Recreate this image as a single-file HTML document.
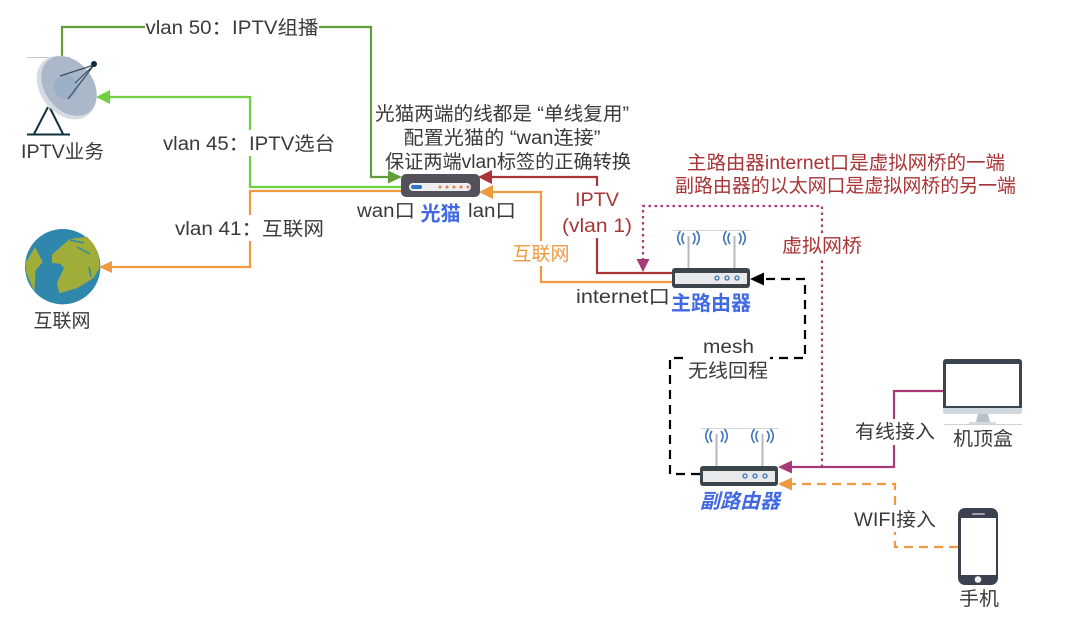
<!DOCTYPE html>
<html><head><meta charset="utf-8"><style>
html,body{margin:0;padding:0;background:#fff}
svg{display:block}
text{font-family:"Liberation Sans","Noto Sans CJK SC",sans-serif;font-size:19px;fill:#3a3a3a;text-anchor:middle}
.l{fill:none;stroke-width:2.2}
.b{font-weight:bold;fill:#4169e1;font-size:20px}
.r{fill:#a83436}
.o{fill:#ef9a40}
</style></head><body>
<svg width="1066" height="626" viewBox="0 0 1066 626" xmlns="http://www.w3.org/2000/svg">
<rect width="1066" height="626" fill="#fff"/>
<!-- connectors -->
<path class="l" stroke="#5f9e38" d="M62 57V27H371V177H390"/>
<path fill="#5f9e38" d="M402 177l-14-6.500v13z"/>
<path class="l" stroke="#72cf40" d="M402 187H250V97H108"/>
<path fill="#72cf40" d="M96 97l14-7v14z"/>
<path class="l" stroke="#ef9a40" d="M402 191H250V267H110"/>
<path fill="#ef9a40" d="M99 267l13-6v12z"/>
<path class="l" stroke="#a83436" d="M672 273H597V177H490"/>
<path fill="#a83436" d="M478 177l14-7v14z"/>
<path class="l" stroke="#ef9a40" d="M672 282H541V192H492"/>
<path fill="#ef9a40" d="M479 192l14-7v14z"/>
<path class="l" stroke="#a83a78" stroke-width="2.500" stroke-dasharray="2.500 3.500" d="M822 467V206H643V262"/>
<path fill="#a83a78" d="M643 272l-6.500-13h13z"/>
<path class="l" stroke="#a83a78" d="M944 391H894V467H790"/>
<path fill="#a83a78" d="M778 467l14-6.500v13z"/>
<path class="l" stroke="#ef9a40" stroke-dasharray="9 6" d="M958 547H895V484H790"/>
<path fill="#ef9a40" d="M778 484l14-6.500v13z"/>
<path class="l" stroke="#000" stroke-dasharray="9 6" d="M700 474H670V358H805V279H762"/>
<path fill="#000" d="M750 279l14-6.500v13z"/>
<!-- label backgrounds -->
<g fill="#fff">
<rect x="145" y="15" width="174" height="24"/>
<rect x="162" y="130" width="175" height="26"/>
<rect x="174" y="215" width="152" height="26"/>
<rect x="562" y="186" width="71" height="52"/>
<rect x="510" y="241" width="62" height="25"/>
<rect x="780" y="233" width="84" height="26"/>
<rect x="686" y="336" width="84" height="48"/>
<rect x="853" y="419" width="84" height="26"/>
<rect x="853" y="506" width="84" height="26"/>
</g>
<!-- satellite dish -->
<g>
<path d="M27 57.500H70" stroke="#c8c8c8" stroke-width="1" fill="none"/>
<path d="M48 107L34 134M50 108L63 134M27 134.500H70" stroke="#12303f" stroke-width="2" fill="none"/>
<ellipse cx="66.500" cy="87.500" rx="26" ry="35" transform="rotate(-38 66.500 87.500)" fill="#d6dbe3"/>
<ellipse cx="69" cy="86" rx="24" ry="33" transform="rotate(-38 69 86)" fill="#abb8ca"/>
<circle cx="66" cy="87" r="12" fill="#9bafc6"/>
<path d="M60 76L94 65M75 83L94 65M68 99L94 65" stroke="#35505f" stroke-width="1.200" fill="none"/>
<circle cx="94" cy="64" r="3" fill="#0d2a3a"/>
</g>
<!-- globe -->
<circle cx="62.700" cy="266.700" r="37.700" fill="#2f87ab"/>
<path d="M53 255L62 247L70 240L87 238L93 245L97 253L99 267L93 277L77 287L60 292L58 283L65 268L61 263L53 262Z" fill="#a0ad38" stroke="#a0ad38" stroke-width="2" stroke-linejoin="round"/>
<path d="M26 263L35 248L42 262L35 270L34 290L27 273Z" fill="#a0ad38" stroke="#a0ad38" stroke-width="1" stroke-linejoin="round"/>
<path d="M77 247L90 254M89 267L91 277M70 240L84 243" stroke="#2f87ab" stroke-width="1.500" fill="none"/>
<!-- modem -->
<rect x="401" y="174" width="79" height="23" rx="5" fill="#54505c"/>
<rect x="409" y="183" width="62" height="8" rx="4" fill="#eceef0"/>
<rect x="411" y="185" width="11" height="4" rx="2" fill="#2f74c8"/>
<g fill="#e0814f"><circle cx="440" cy="187" r="1.500"/><circle cx="447" cy="187" r="1.500"/><circle cx="454" cy="187" r="1.500"/><circle cx="461" cy="187" r="1.500"/><circle cx="468" cy="187" r="1.500"/></g>
<!-- main router -->
<g>
<path d="M672.500 230.500H750" stroke="#d4d4d4" stroke-width="1" fill="none"/>
<path d="M688.500 236V268M734.500 236V268" stroke="#b8b8b8" stroke-width="2" fill="none"/>
<g fill="none" stroke="#3f74b8" stroke-width="1.600">
<path d="M684 233Q680 238 684 244M693 233Q697 238 693 244M680.500 231Q675 238 680.500 245M696.500 231Q702 238 696.500 245"/>
<path d="M730 233Q726 238 730 244M739 233Q743 238 739 244M726.500 231Q721 238 726.500 245M742.500 231Q748 238 742.500 245"/>
</g>
<rect x="672" y="268" width="78" height="20" rx="3" fill="#3c454c"/>
<rect x="675" y="273" width="72" height="11" fill="#e8e9ea"/>
<g fill="#e8e9ea" stroke="#3f74b8" stroke-width="1.300"><circle cx="717" cy="278" r="2"/><circle cx="727" cy="278" r="2"/><circle cx="737" cy="278" r="2"/></g>
</g>
<!-- secondary router -->
<g transform="translate(28 198)">
<path d="M672.500 230.500H750" stroke="#d4d4d4" stroke-width="1" fill="none"/>
<path d="M688.500 236V268M734.500 236V268" stroke="#b8b8b8" stroke-width="2" fill="none"/>
<g fill="none" stroke="#3f74b8" stroke-width="1.600">
<path d="M684 233Q680 238 684 244M693 233Q697 238 693 244M680.500 231Q675 238 680.500 245M696.500 231Q702 238 696.500 245"/>
<path d="M730 233Q726 238 730 244M739 233Q743 238 739 244M726.500 231Q721 238 726.500 245M742.500 231Q748 238 742.500 245"/>
</g>
<rect x="672" y="268" width="78" height="20" rx="3" fill="#3c454c"/>
<rect x="675" y="273" width="72" height="11" fill="#e8e9ea"/>
<g fill="#e8e9ea" stroke="#3f74b8" stroke-width="1.300"><circle cx="717" cy="278" r="2"/><circle cx="727" cy="278" r="2"/><circle cx="737" cy="278" r="2"/></g>
</g>
<!-- monitor -->
<path d="M943 362a3 3 0 0 1 3-3h73a3 3 0 0 1 3 3v46h-79z" fill="#3a4550"/>
<path d="M943 408h79v4a2 2 0 0 1-2 2h-75a2 2 0 0 1-2-2z" fill="#d0d8e0"/>
<rect x="946" y="364" width="73" height="42" fill="#fff"/>
<path d="M978 414h10l2 8h-14z" fill="#b7c2cb"/>
<rect x="969" y="422" width="27" height="2" fill="#d3dbe1"/>
<path d="M944 424.500h78" stroke="#d2d2d2" stroke-width="1"/>
<!-- phone -->
<rect x="958" y="508" width="40" height="77" rx="7" fill="#3c4150"/>
<rect x="961" y="518" width="35" height="57" fill="#fff"/>
<rect x="972" y="513" width="13" height="2" rx="1" fill="#9aa0aa"/>
<circle cx="978" cy="579.500" r="3.300" fill="#f0f0f0"/>
<!-- labels -->
<text x="232" y="34" textLength="173" lengthAdjust="spacingAndGlyphs">vlan 50：IPTV组播</text>
<text x="249" y="150" textLength="172" lengthAdjust="spacingAndGlyphs">vlan 45：IPTV选台</text>
<text x="249.500" y="235" textLength="149" lengthAdjust="spacingAndGlyphs">vlan 41：互联网</text>
<text x="62.500" y="158" textLength="83" lengthAdjust="spacingAndGlyphs">IPTV业务</text>
<text x="62" y="327">互联网</text>
<text x="502" y="120" textLength="254" lengthAdjust="spacingAndGlyphs">光猫两端的线都是 “单线复用”</text>
<text x="502" y="144" textLength="197" lengthAdjust="spacingAndGlyphs">配置光猫的 “wan连接”</text>
<text x="508" y="168" textLength="246" lengthAdjust="spacingAndGlyphs">保证两端vlan标签的正确转换</text>
<text x="386" y="217" textLength="58" lengthAdjust="spacingAndGlyphs">wan口</text>
<text x="440.500" y="220.500" class="b">光猫</text>
<text x="492" y="217" textLength="48" lengthAdjust="spacingAndGlyphs">lan口</text>
<text x="597" y="206" class="r" textLength="44" lengthAdjust="spacingAndGlyphs">IPTV</text>
<text x="597" y="232" class="r" textLength="70" lengthAdjust="spacingAndGlyphs">(vlan 1)</text>
<text x="541" y="260" class="o">互联网</text>
<text x="623" y="303" textLength="94" lengthAdjust="spacingAndGlyphs">internet口</text>
<text x="711" y="310" class="b">主路由器</text>
<text x="846" y="169" class="r" textLength="318" lengthAdjust="spacingAndGlyphs">主路由器internet口是虚拟网桥的一端</text>
<text x="845.500" y="192" class="r" textLength="341" lengthAdjust="spacingAndGlyphs">副路由器的以太网口是虚拟网桥的另一端</text>
<text x="822" y="252" class="r" textLength="80" lengthAdjust="spacingAndGlyphs">虚拟网桥</text>
<text x="728.500" y="353" textLength="51" lengthAdjust="spacingAndGlyphs">mesh</text>
<text x="728" y="377" textLength="80" lengthAdjust="spacingAndGlyphs">无线回程</text>
<text x="740" y="508" class="b" style="font-style:italic">副路由器</text>
<text x="895" y="438" textLength="80" lengthAdjust="spacingAndGlyphs">有线接入</text>
<text x="895" y="526" textLength="82" lengthAdjust="spacingAndGlyphs">WIFI接入</text>
<text x="983" y="445" textLength="60" lengthAdjust="spacingAndGlyphs">机顶盒</text>
<text x="979" y="605" textLength="40" lengthAdjust="spacingAndGlyphs">手机</text>
</svg>
</body></html>
